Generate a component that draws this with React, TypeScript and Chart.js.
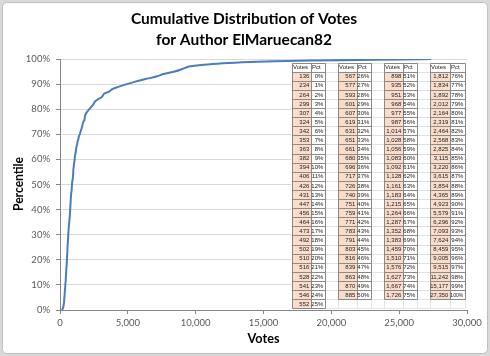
import React, { useEffect, useRef } from "react";
import { Chart, registerables } from "chart.js";

Chart.register(...registerables);

const TITLE_LINES = ["Cumulative Distribution of Votes", "for Author ElMaruecan82"];
const X_TITLE = "Votes";
const Y_TITLE = "Percentile";

// Votes needed to reach each percentile
const votes = [
  136, 234, 264, 299, 307, 324, 342, 353, 363, 382, 394, 406, 426, 431, 447, 456, 464, 473, 492, 502, 510, 516, 528, 541, 546, 552,
  567, 577, 593, 601, 607, 619, 631, 651, 661, 680, 696, 717, 726, 740, 751, 759, 771, 783, 791, 803, 816, 839, 863, 870, 885,
  898, 935, 951, 968, 977, 987, 1014, 1028, 1056, 1083, 1092, 1128, 1161, 1183, 1215, 1264, 1287, 1352, 1383, 1459, 1510, 1576, 1627, 1667, 1726,
  1812, 1834, 1892, 2012, 2164, 2319, 2464, 2568, 2825, 3115, 3220, 3615, 3854, 4365, 4923, 5579, 6296, 7093, 7624, 8459, 9005, 9515, 11242, 15177, 27350,
];

const pct = [
  0, 1, 2, 3, 4, 5, 6, 7, 8, 9, 10, 11, 12, 13, 14, 15, 16, 17, 18, 19, 20, 21, 22, 23, 24, 25,
  26, 27, 28, 29, 30, 31, 32, 33, 34, 35, 36, 37, 38, 39, 40, 41, 42, 43, 44, 45, 46, 47, 48, 49, 50,
  51, 52, 53, 54, 55, 56, 57, 58, 59, 60, 61, 62, 63, 64, 65, 66, 67, 68, 69, 70, 71, 72, 73, 74, 75,
  76, 77, 78, 79, 80, 81, 82, 83, 84, 85, 86, 87, 88, 89, 90, 91, 92, 93, 94, 95, 96, 97, 98, 99, 100,
];

const xTicks = [0, 5000, 10000, 15000, 20000, 25000, 30000];
const yTicks = [0, 10, 20, 30, 40, 50, 60, 70, 80, 90, 100];

// table blocks: [first index, last index] of the rows shown in each column pair
const tableBlocks = [
  [0, 25],
  [26, 50],
  [51, 75],
  [76, 100],
];
const tableHeaders = ["Votes", "Pct"];

const fmt = (n: number) => n.toLocaleString("en-US");

const decorPlugin = {
  id: "decor",
  beforeDraw(chart: any) {
    const { ctx, width, height } = chart;
    ctx.save();
    ctx.fillStyle = "#d9d9d9";
    ctx.fillRect(0, 0, width, height);
    ctx.fillStyle = "#ffffff";
    ctx.strokeStyle = "#bfbfbf";
    ctx.lineWidth = 1;
    ctx.beginPath();
    (ctx as any).roundRect ? ctx.roundRect(2.5, 2.5, width - 5, height - 5, 4) : ctx.rect(2.5, 2.5, width - 5, height - 5);
    ctx.fill();
    ctx.stroke();
    ctx.restore();
  },
  afterDraw(chart: any) {
    const { ctx, chartArea } = chart;
    ctx.save();
    // Titles
    ctx.fillStyle = "#000000";
    ctx.textAlign = "center";
    ctx.textBaseline = "middle";
    ctx.font = "bold 15.5px Lato";
    ctx.fillText(TITLE_LINES[0], 244, 19, 234);
    ctx.fillText(TITLE_LINES[1], 244, 40, 180);
    ctx.font = "bold 13px Lato";
    ctx.fillText(X_TITLE, (chartArea.left + chartArea.right) / 2, 339, 32);
    ctx.save();
    ctx.translate(19, 184);
    ctx.rotate(-Math.PI / 2);
    ctx.fillText(Y_TITLE, 0, 0, 54);
    ctx.restore();

    // Data table overlay
    const colW = [19, 14, 13, 19, 14, 13, 19, 14, 13, 20, 15];
    const x0 = 291.5;
    const top = 62.5;
    const rowH = 9.1;
    const nRows = 27;
    const xs: number[] = [x0];
    colW.forEach((w) => xs.push(xs[xs.length - 1] + w));
    const right = xs[xs.length - 1];
    const bottom = top + nRows * rowH;

    ctx.fillStyle = "#ffffff";
    ctx.fillRect(x0, top, right - x0, bottom - top);

    // faint sheet gridlines
    ctx.strokeStyle = "#e3e3e3";
    ctx.lineWidth = 1;
    ctx.beginPath();
    for (let r = 0; r <= nRows; r++) {
      const y = Math.round(top + r * rowH) + 0.5;
      ctx.moveTo(x0, y);
      ctx.lineTo(right, y);
    }
    xs.forEach((x) => {
      const xx = Math.round(x) + 0.5;
      ctx.moveTo(xx, top);
      ctx.lineTo(xx, bottom);
    });
    ctx.stroke();

    tableBlocks.forEach(([a, b], bi) => {
      const vx0 = xs[bi * 3];
      const vx1 = xs[bi * 3 + 1];
      const px1 = xs[bi * 3 + 2];
      const n = b - a + 1;
      // peach fill for votes cells
      ctx.fillStyle = "#fbdcc8";
      for (let r = 0; r < n; r++) {
        const y = Math.round(top + (r + 1) * rowH) + 0.5;
        const y2 = Math.round(top + (r + 2) * rowH) + 0.5;
        ctx.fillRect(Math.round(vx0) + 0.5, y, Math.round(vx1) - Math.round(vx0), y2 - y);
      }
      // borders
      ctx.strokeStyle = "#8a8a8a";
      ctx.beginPath();
      for (let r = 0; r <= n + 1; r++) {
        const y = Math.round(top + r * rowH) + 0.5;
        ctx.moveTo(Math.round(vx0) + 0.5, y);
        ctx.lineTo(Math.round(px1) + 0.5, y);
      }
      const yb = Math.round(top + (n + 1) * rowH) + 0.5;
      [vx0, vx1, px1].forEach((x) => {
        const xx = Math.round(x) + 0.5;
        ctx.moveTo(xx, Math.round(top) + 0.5);
        ctx.lineTo(xx, yb);
      });
      ctx.stroke();

      // text
      ctx.fillStyle = "#222222";
      ctx.textBaseline = "middle";
      ctx.font = "6px 'Liberation Sans'";
      ctx.textAlign = "left";
      const hy = top + rowH / 2 + 0.5;
      ctx.fillText(tableHeaders[0], vx0 + 1.5, hy, vx1 - vx0 - 2);
      ctx.fillText(tableHeaders[1], vx1 + 1.5, hy, px1 - vx1 - 2);
      ctx.textAlign = "right";
      for (let r = 0; r < n; r++) {
        const i = a + r;
        const y = top + (r + 1.5) * rowH + 0.5;
        ctx.fillText(fmt(votes[i]), vx1 - 1.2, y, vx1 - vx0 - 2);
        ctx.fillText(pct[i] + "%", px1 - 1.2, y, px1 - vx1 - 2);
      }
    });
    ctx.restore();
  },
};

export default function App() {
  const ref = useRef<HTMLCanvasElement | null>(null);

  useEffect(() => {
    document.body.style.margin = "0";
    const canvas = ref.current;
    if (!canvas) return;
    const chart = new Chart(canvas, {
      type: "line",
      data: {
        datasets: [
          {
            data: votes.map((v, i) => ({ x: v, y: pct[i] / 100 })),
            borderColor: "#4a7ebb",
            borderWidth: 2,
            pointRadius: 0,
            cubicInterpolationMode: "monotone",
            fill: false,
          },
        ],
      },
      options: {
        animation: false,
        responsive: false,
        devicePixelRatio: 1,
        layout: { padding: { left: 0, right: 23, top: 59, bottom: 0 } },
        plugins: {
          legend: { display: false },
          title: { display: false },
          tooltip: { enabled: false },
        },
        scales: {
          x: {
            type: "linear",
            min: 0,
            max: 30000,
            afterBuildTicks: (s: any) => {
              s.ticks = xTicks.map((v) => ({ value: v }));
            },
            afterFit: (s: any) => {
              s.height = 46;
            },
            ticks: {
              callback: (v: any) => fmt(Number(v)),
              color: "#595959",
              font: { family: "Lato", size: 9.5 },
              padding: 3,
              maxRotation: 0,
              autoSkip: false,
            },
            grid: { drawOnChartArea: false, drawTicks: true, tickLength: 4, tickColor: "#868686" },
            border: { color: "#868686", width: 1 },
          },
          y: {
            type: "linear",
            min: 0,
            max: 1,
            afterBuildTicks: (s: any) => {
              s.ticks = yTicks.map((v) => ({ value: v / 100 }));
            },
            afterFit: (s: any) => {
              s.width = 60;
            },
            ticks: {
              callback: (v: any) => Math.round(Number(v) * 100) + "%",
              color: "#595959",
              font: { family: "Lato", size: 9.5 },
              padding: 6,
              autoSkip: false,
            },
            grid: { color: "#d9d9d9", drawTicks: true, tickLength: 4, tickColor: "#868686" },
            border: { color: "#868686", width: 1 },
          },
        },
      },
      plugins: [decorPlugin],
    } as any);
    return () => chart.destroy();
  }, []);

  return (
    <div style={{ position: "absolute", left: 0, top: 0, width: 490, height: 356 }}>
      <canvas ref={ref} width={490} height={356} style={{ display: "block", width: 490, height: 356 }} />
    </div>
  );
}
